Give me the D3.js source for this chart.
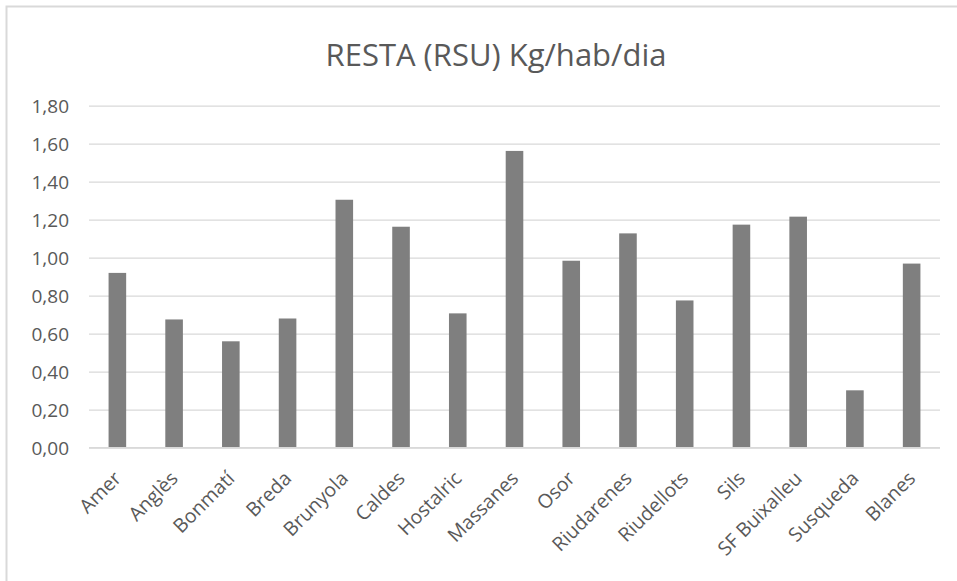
<!DOCTYPE html>
<html>
<head>
<meta charset="utf-8">
<script src="https://cdn.jsdelivr.net/npm/d3@7"></script>
<style>
  body { margin: 0; background: #fff; }
  text { font-family: "Open Sans", "Liberation Sans", sans-serif; fill: #595959; }
  .plot-title { font-size: 31px; }
  .y-axis text { font-size: 19px; }
  .x-axis text { font-size: 19.5px; }
</style>
</head>
<body>
<div id="chart"></div>
<script>
// data
const municipis = ["Amer", "Anglès", "Bonmatí", "Breda", "Brunyola", "Caldes", "Hostalric",
  "Massanes", "Osor", "Riudarenes", "Riudellots", "Sils", "SF Buixalleu", "Susqueda", "Blanes"];
const resta = [0.92, 0.675, 0.56, 0.68, 1.305, 1.163, 0.707, 1.562, 0.984, 1.128, 0.775, 1.174, 1.216, 0.302, 0.969];
const yTicks = [0, 0.2, 0.4, 0.6, 0.8, 1.0, 1.2, 1.4, 1.6, 1.8];

const W = 957, H = 581;
const margin = {top: 105.7, right: 17, bottom: 133.3, left: 89},
    width = W - margin.left - margin.right,
    height = H - margin.top - margin.bottom;

const svg = d3.select("#chart")
    .append("svg")
    .attr("width", W)
    .attr("height", H);

// chart border (right and bottom run off the picture)
svg.append("rect")
    .attr("x", 6.5)
    .attr("y", 6.5)
    .attr("width", 980)
    .attr("height", 600)
    .attr("fill", "none")
    .attr("stroke", "#d9d9d9")
    .attr("stroke-width", 2)

svg.append("text")
    .attr("class", "plot-title")
    .attr("x", 496)
    .attr("y", 66)
    .attr("text-anchor", "middle")
    .text("RESTA (RSU) Kg/hab/dia")

const g = svg.append("g")
    .attr("transform", `translate(${margin.left},${margin.top})`);

const commaFmt = d3.formatLocale({decimal: ",", thousands: ".", grouping: [3], currency: ["", "€"]}).format(".2f");

// Y axis + gridlines
const y = d3.scaleLinear()
    .domain([0, 1.8])
    .range([height, 0]);
g.append("g")
    .attr("class", "y-axis")
    .call(d3.axisLeft(y)
    .tickValues(yTicks)
    .tickSizeInner(-width)
    .tickSizeOuter(0)
    .tickPadding(20)
    .tickFormat(commaFmt))
    .call(a => a.select(".domain").remove())
    .call(a => a.selectAll("line").attr("stroke", "#d9d9d9").attr("stroke-width", 1.3))
    .call(a => a.selectAll("text").attr("dy", "0.35em"));

// X axis
const x = d3.scaleBand()
    .domain(municipis)
    .range([0, width])
    .paddingInner(0.69)
    .paddingOuter(0.345);

g.selectAll("rect.bar")
    .data(municipis.map((m, i) => ({m: m, v: resta[i]})))
    .join("rect")
    .attr("class", "bar")
    .attr("x", d => x(d.m))
    .attr("y", d => y(d.v))
    .attr("width", x.bandwidth())
    .attr("height", d => height - y(d.v))
    .attr("fill", "#7f7f7f");

// baseline drawn over bars
g.append("line")
    .attr("x1", 0)
    .attr("x2", width)
    .attr("y1", height)
    .attr("y2", height)
    .attr("stroke", "#d9d9d9")
    .attr("stroke-width", 1.5)

g.append("g")
    .attr("class", "x-axis")
    .attr("transform", `translate(0, ${height})`)
    .call(d3.axisBottom(x).tickSize(0).tickSizeOuter(0))
    .call(a => a.select(".domain").remove())
    .call(a => a.selectAll("text")
        .attr("text-anchor", "end")
        .attr("dy", 0)
        .attr("y", 0)
        .attr("transform", "translate(5,32) rotate(-45)"));
</script>
</body>
</html>
